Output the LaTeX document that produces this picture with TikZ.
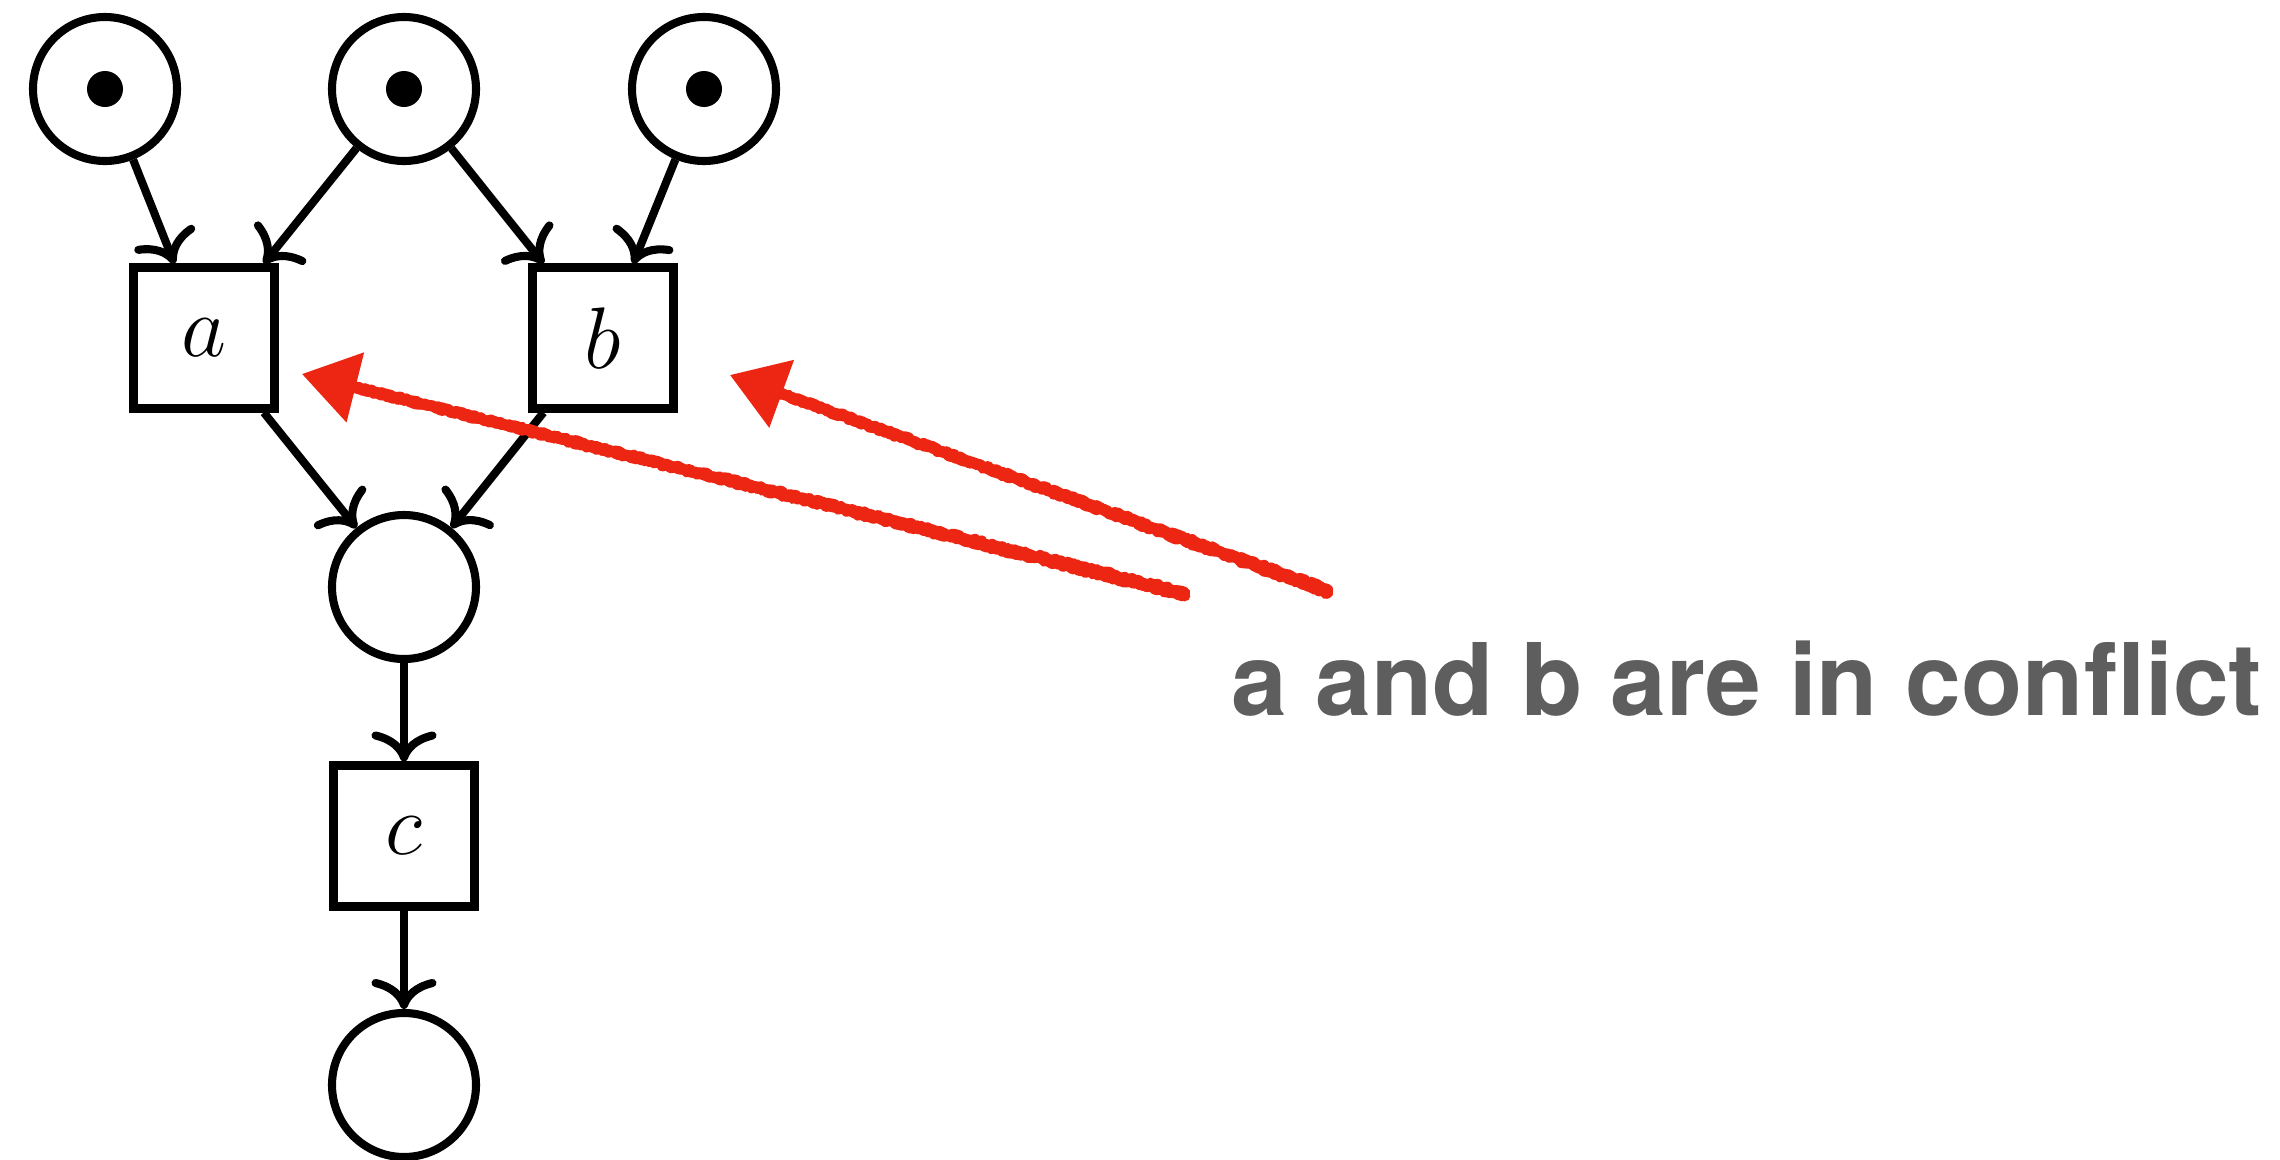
\documentclass[tikz,border=0pt]{standalone}
\usepackage{fontspec}
\newfontfamily\notefont{TeX Gyre Heros}
\usetikzlibrary{arrows.meta,calc,decorations.pathmorphing}

\tikzset{>={Computer Modern Rightarrow[width=6.5mm,length=3mm]}}
\definecolor{sketchred}{RGB}{236,38,18}
\definecolor{notegray}{RGB}{94,94,94}

\begin{document}
\begin{tikzpicture}[
    line width=2.3pt,
    place/.style={draw,circle,minimum size=1.44cm,inner sep=0pt},
    transition/.style={draw,minimum size=1.41cm,inner sep=0pt,font=\fontsize{25}{30}\selectfont},
    sketch/.style={draw=sketchred,line width=3pt,line cap=round,line join=round,
      decorate,decoration={random steps,segment length=0.6pt,amplitude=0.45pt}},
    sketchtip/.style={draw=sketchred,fill=sketchred,line width=2.6pt,-{Triangle[length=5.5mm,width=7mm]}},
    note/.style={text=notegray,font=\notefont\bfseries\fontsize{28.5}{34}\selectfont}
  ]
  \useasboundingbox (0,0) rectangle (22.8,11.59);
  % places
  \node[place] (p1) at (1.05,10.70) {};
  \node[place] (p2) at (4.04,10.70) {};
  \node[place] (p3) at (7.04,10.70) {};
  \node[place] (p4) at (4.04,5.72) {};
  \node[place] (p5) at (4.04,0.74) {};
  % tokens
  \foreach \p in {p1,p2,p3}
    \fill (\p) circle (0.18);
  % transitions
  \node[transition] (a) at (2.04,8.21) {$a$};
  \node[transition] (b) at (6.03,8.21) {$b$};
  \node[transition] (c) at (4.04,3.23) {$c$};
  % arcs
  \draw[->] (p1) -- (a);
  \draw[->] (p2) -- (a);
  \draw[->] (p2) -- (b);
  \draw[->] (p3) -- (b);
  \draw[->] (a) -- (p4);
  \draw[->] (b) -- (p4);
  \draw[->] (p4) -- (c);
  \draw[->] (c) -- (p5);
  % annotation, drawn as two rough strokes each
  \coordinate (s1) at (11.85,5.63);
  \coordinate (e1) at (3.02,7.85);
  \coordinate (s2) at (13.28,5.66);
  \coordinate (e2) at (7.30,7.84);
  \foreach \s/\e in {s1/e1,s2/e2} {
    \draw[sketch] (\s) -- ($(\e)!0.4cm!(\s)$);
    \draw[sketch] ($(\s)+(0,0.035)$) -- ($(\e)!0.4cm!(\s)$);
    \draw[sketchtip] ($(\e)!0.7cm!(\s)$) -- (\e);
  }
  \node[note,anchor=base] (lbl) at (17.47,4.44) {a and b are in conflict};
\end{tikzpicture}
\end{document}
